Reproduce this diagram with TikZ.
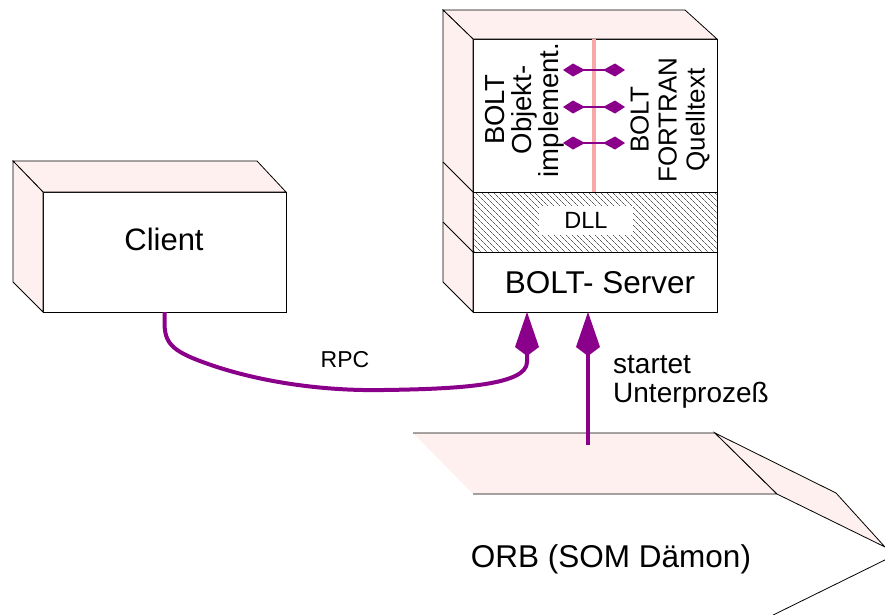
\documentclass[tikz,border=0pt]{standalone}
\usepackage{fontspec}
\setmainfont{Liberation Sans}
\usetikzlibrary{arrows.meta,patterns.meta}
\definecolor{purp}{RGB}{139,0,139}
\definecolor{blush}{RGB}{255,240,240}
\definecolor{salmon}{RGB}{248,168,168}
\tikzset{
  face/.style={draw, fill=blush, line width=0.8pt},
  front/.style={draw, fill=white, line width=0.8pt, inner sep=0pt, outer sep=0pt},
  lbl/.style={inner sep=0pt, anchor=base},
  link/.style={draw=purp, line width=4pt, -{Kite[length=44pt,width=24pt,inset=9pt]}},
  swap/.style={draw=purp, line width=1.5pt, {Kite[length=22pt,width=13pt,inset=12pt]}-{Kite[length=22pt,width=13pt,inset=12pt]}},
}

\begin{document}
\begin{tikzpicture}[x=1pt, y=-1pt]
\useasboundingbox (0,0) rectangle (885,614);
\clip (0,0) rectangle (885,614);

% Client
\node[front, minimum width=243pt, minimum height=120pt] (client) at (164.5,252) {};
\draw[face] (client.north west) -- ++(-30,-31) -- ++(244,0) -- (client.north east) -- cycle;
\draw[face] (client.north west) -- ++(-30,-31) -- ++(0,121) -- (client.south west) -- cycle;
\node[lbl, font=\fontsize{31}{36}\selectfont] (clientlbl) at (164,250) {Client};

% Server
\node[front, minimum width=244pt, minimum height=273pt] (server) at (595,175.5) {};
\draw[face] (server.north west) -- ++(-30,-29) -- ++(242,0) -- (server.north east) -- cycle;
\draw[face] (server.north west) -- ++(-30,-29) -- ++(0,272) -- (server.south west) -- cycle;
\draw[line width=0.8pt] (443,162) -- (473,192) (443,222) -- (473,252);
\fill[pattern={Lines[angle=-45,distance=4pt,line width=0.45pt]}] (473,192) rectangle (717,252);
\draw[line width=0.8pt] (473,192) -- (717,192) (473,252) -- (717,252);
\node[fill=white, minimum width=94pt, minimum height=29pt, inner sep=0pt,
      font=\fontsize{23.5}{28}\selectfont] (dll) at (586,220) {DLL};
\draw[salmon, line width=4pt] (594,39) -- (594,192);
\foreach \y in {70,107,143}
  \draw[swap] (563,\y) -- (625,\y);
\node[rotate=90, align=center, font=\fontsize{27.5}{27}\selectfont] (impl) at (525,110) {BOLT\\Objekt-\\implement.};
\node[rotate=90, align=center, font=\fontsize{26}{28}\selectfont] (fortran) at (670,120) {BOLT\\FORTRAN\\Quelltext};
\node[lbl, font=\fontsize{31.5}{36}\selectfont] (srvlbl) at (600,293) {BOLT- Server};

% ORB
\fill[blush] (413,433) -- (715,433) -- (777,494) -- (473,494) -- cycle;
\draw[line width=0.8pt] (413,433) -- (715,433) -- (777,494) (473,494) -- (777,494);
\draw[face] (715,433) -- (836,493) -- (885,547) -- (777,494) -- cycle;
\draw[line width=0.8pt] (895,555) -- (765,619);
\coordinate (orbtop) at (588,445);
\node[lbl, font=\fontsize{31.5}{36}\selectfont] (orblbl) at (611,567) {ORB (SOM Dämon)};

% Verbindungen
\draw[link] (client.south) -- ++(0,8)
  .. controls (164,345) and (172,352) .. (217,367)
  .. controls (270,384) and (330,391) .. (383,390)
  .. controls (460,389) and (527,385) .. (527,362)
  -- ([xshift=54pt]server.south west);
\node[lbl, font=\fontsize{23}{28}\selectfont] (rpc) at (345,367) {RPC};
\draw[link] (orbtop) -- ([xshift=115pt]server.south west);
\node[lbl, anchor=base west, font=\fontsize{28}{32}\selectfont] (start1) at (613,373) {startet};
\node[lbl, anchor=base west, font=\fontsize{28}{32}\selectfont] (start2) at (613,402) {Unterprozeß};
\end{tikzpicture}
\end{document}
